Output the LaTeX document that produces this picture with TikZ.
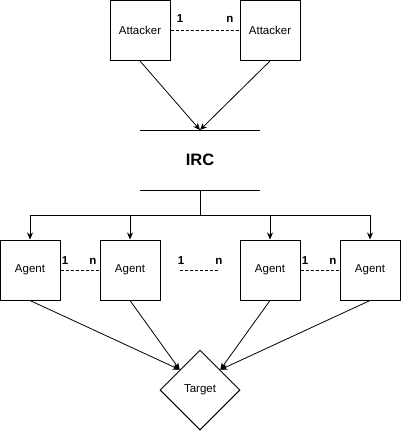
\documentclass[tikz,border=0pt]{standalone}
\usepackage{fontspec}
\setmainfont{Liberation Sans}
\usetikzlibrary{arrows.meta,shapes.geometric,calc}
\begin{document}
\begin{tikzpicture}[x=1pt,y=-1pt,
  box/.style={draw,line width=1pt,minimum width=60pt,minimum height=60pt,inner sep=0pt,font=\fontsize{11.5}{13}\selectfont},
  diam/.style={draw,diamond,line width=1pt,minimum width=80pt,minimum height=80pt,inner sep=0pt,font=\fontsize{11.5}{13}\selectfont},
  lab/.style={font=\bfseries\fontsize{11.5}{13}\selectfont,inner sep=0pt},
  link/.style={line width=0.8pt,dash pattern=on 3pt off 2pt},
  conn/.style={line width=0.8pt,-{Stealth[length=7pt,width=6pt]}},
  plain/.style={line width=1pt}]
\useasboundingbox (0,0) rectangle (401,431);
% attackers
\node[box] (a1) at (140,30.5) {Attacker};
\node[box] (a2) at (270,30.5) {Attacker};
\draw[link] (a1.east) -- (a2.west);
\node[lab] (a1l) at (180,19) {1};
\node[lab] (a1n) at (230,19) {n};
% IRC
\coordinate (t1) at (140,130);
\coordinate (t2) at (260,130);
\coordinate (tm) at (200,130);
\draw[plain] (t1) -- (t2);
\node[font=\bfseries\fontsize{16.5}{19}\selectfont] (irc) at (200,160) {IRC};
\coordinate (b1) at (140,190);
\coordinate (b2) at (260,190);
\coordinate (bm) at (200,190);
\draw[plain] (b1) -- (b2);
\draw[conn] (a1.south) -- (tm);
\draw[conn] (a2.south) -- (tm);
% agents
\node[box] (g1) at (30,270) {Agent};
\node[box] (g2) at (130,270) {Agent};
\node[box] (g3) at (270,270) {Agent};
\node[box] (g4) at (370,270) {Agent};
\coordinate (j) at (200,215);
\draw[line width=0.8pt] (bm) -- (j);
\draw[conn] (j) -| (g1.north);
\draw[conn] (j) -| (g2.north);
\draw[conn] (j) -| (g3.north);
\draw[conn] (j) -| (g4.north);
\draw[link] (g1.east) -- (g2.west);
\draw[link] (g3.east) -- (g4.west);
\coordinate (m1) at (180,270);
\coordinate (m2) at (220,270);
\draw[link] (m1) -- (m2);
\node[lab] (l1) at (65,261) {1};
\node[lab] (n1) at (93,261) {n};
\node[lab] (l2) at (181,261) {1};
\node[lab] (n2) at (219,261) {n};
\node[lab] (l3) at (305,261) {1};
\node[lab] (n3) at (333,261) {n};
% target
\node[diam] (tg) at (200,390) {Target};
\coordinate (tl) at ($(tg.west)!0.5!(tg.north)$);
\coordinate (tr) at ($(tg.east)!0.5!(tg.north)$);
\draw[conn] (g1.south) -- (tl);
\draw[conn] (g2.south) -- (tl);
\draw[conn] (g3.south) -- (tr);
\draw[conn] (g4.south) -- (tr);
\end{tikzpicture}
\end{document}
